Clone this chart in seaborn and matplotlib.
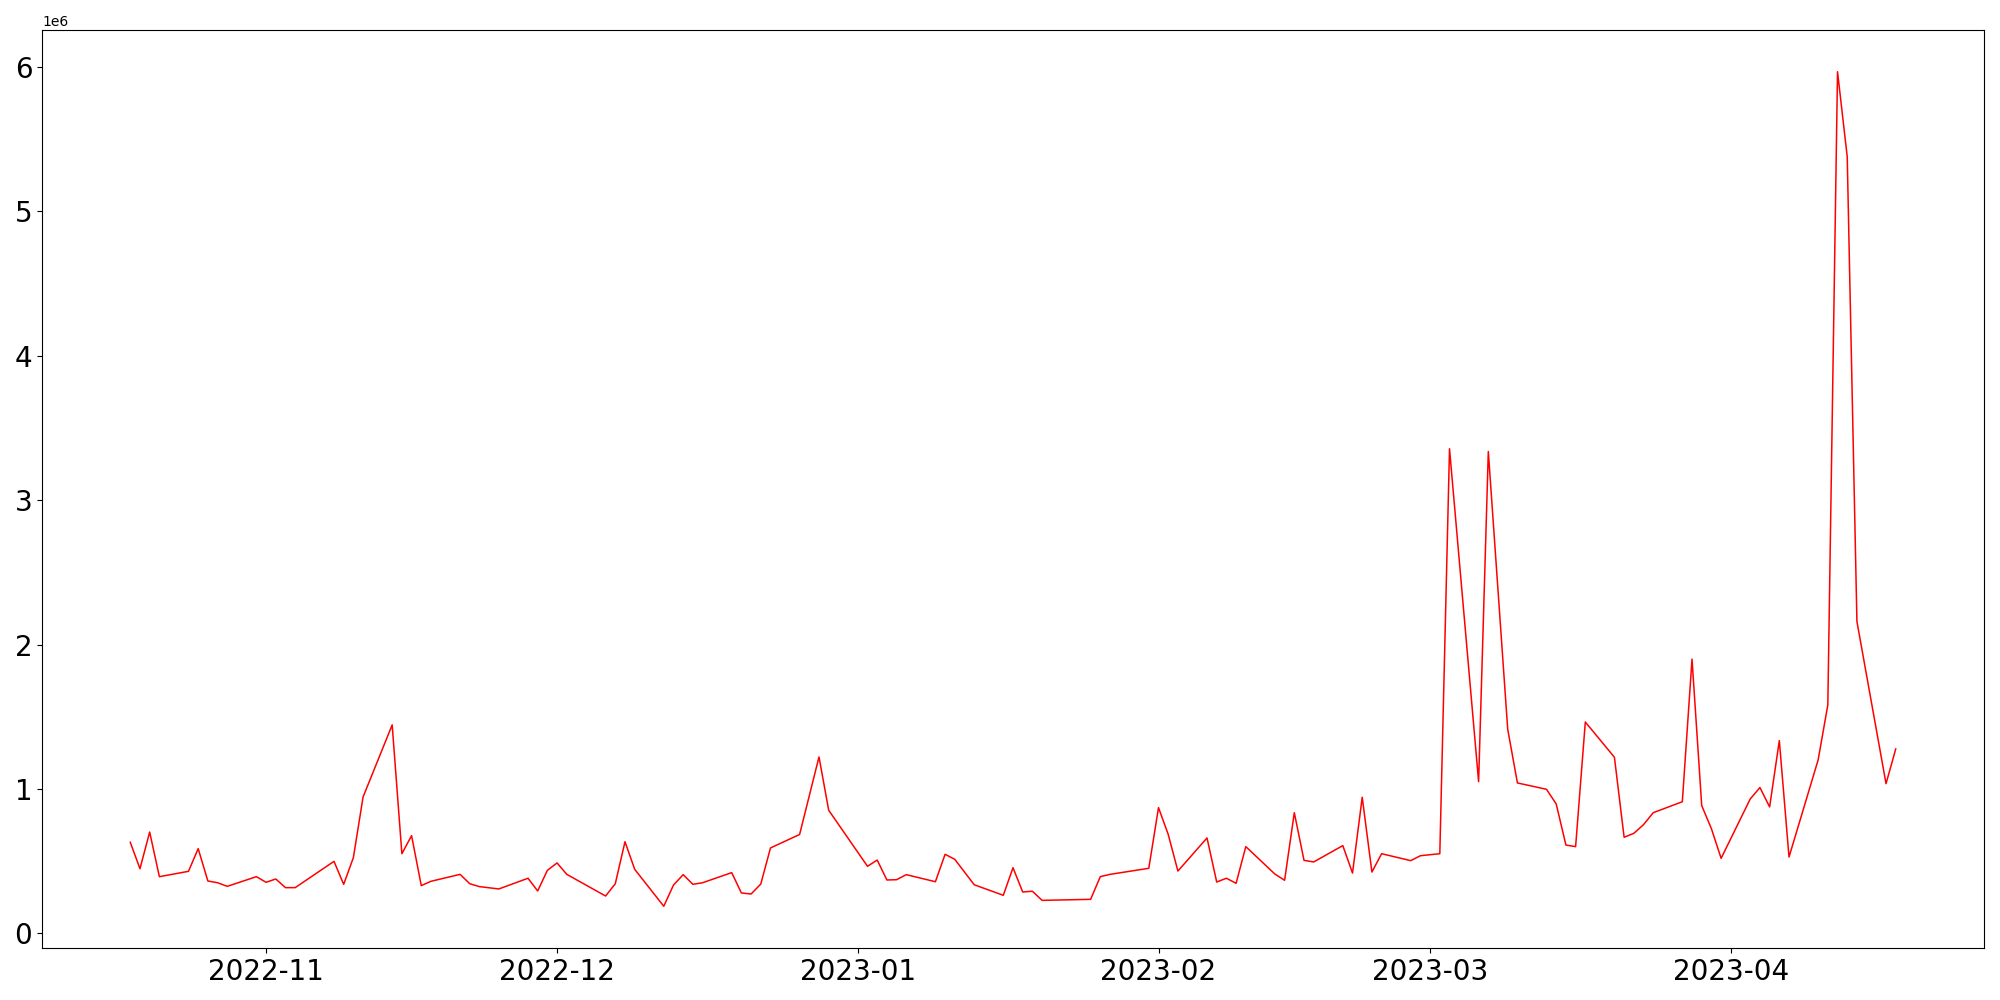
import pandas as pd
import seaborn as sns
import matplotlib.pyplot as plt

# dates of the observations (gaps are days with no data)
dates = [
    "2022-10-18", "2022-10-19", "2022-10-20", "2022-10-21", "2022-10-24",
    "2022-10-25", "2022-10-26", "2022-10-27", "2022-10-28", "2022-10-31",
    "2022-11-01", "2022-11-02", "2022-11-03", "2022-11-04", "2022-11-08",
    "2022-11-09", "2022-11-10", "2022-11-11", "2022-11-14", "2022-11-15",
    "2022-11-16", "2022-11-17", "2022-11-18", "2022-11-21", "2022-11-22",
    "2022-11-23", "2022-11-25", "2022-11-28", "2022-11-29", "2022-11-30",
    "2022-12-01", "2022-12-02", "2022-12-06", "2022-12-07", "2022-12-08",
    "2022-12-09", "2022-12-12", "2022-12-13", "2022-12-14", "2022-12-15",
    "2022-12-16", "2022-12-19", "2022-12-20", "2022-12-21", "2022-12-22",
    "2022-12-23", "2022-12-26", "2022-12-28", "2022-12-29", "2023-01-02",
    "2023-01-03", "2023-01-04", "2023-01-05", "2023-01-06", "2023-01-09",
    "2023-01-10", "2023-01-11", "2023-01-13", "2023-01-16", "2023-01-17",
    "2023-01-18", "2023-01-19", "2023-01-20", "2023-01-25", "2023-01-26",
    "2023-01-27", "2023-01-31", "2023-02-01", "2023-02-02", "2023-02-03",
    "2023-02-06", "2023-02-07", "2023-02-08", "2023-02-09", "2023-02-10",
    "2023-02-13", "2023-02-14", "2023-02-15", "2023-02-16", "2023-02-17",
    "2023-02-20", "2023-02-21", "2023-02-22", "2023-02-23", "2023-02-24",
    "2023-02-27", "2023-02-28", "2023-03-01", "2023-03-02", "2023-03-03",
    "2023-03-06", "2023-03-07", "2023-03-09", "2023-03-10", "2023-03-13",
    "2023-03-14", "2023-03-15", "2023-03-16", "2023-03-17", "2023-03-20",
    "2023-03-21", "2023-03-22", "2023-03-23", "2023-03-24", "2023-03-27",
    "2023-03-28", "2023-03-29", "2023-03-30", "2023-03-31", "2023-04-03",
    "2023-04-04", "2023-04-05", "2023-04-06", "2023-04-07", "2023-04-10",
    "2023-04-11", "2023-04-12", "2023-04-13", "2023-04-14", "2023-04-17",
    "2023-04-18",
]

# values in millions
values_m = [
    0.631, 0.448, 0.702, 0.393, 0.430,
    0.587, 0.363, 0.351, 0.326, 0.393,
    0.354, 0.377, 0.317, 0.317, 0.499,
    0.340, 0.525, 0.945, 1.444, 0.552,
    0.677, 0.331, 0.361, 0.409, 0.344,
    0.324, 0.308, 0.382, 0.294, 0.437,
    0.488, 0.409, 0.259, 0.344, 0.635,
    0.444, 0.188, 0.335, 0.407, 0.340,
    0.351, 0.421, 0.280, 0.273, 0.342,
    0.592, 0.685, 1.222, 0.853, 0.465,
    0.508, 0.370, 0.372, 0.407, 0.358,
    0.548, 0.513, 0.337, 0.264, 0.455,
    0.287, 0.292, 0.229, 0.236, 0.393,
    0.409, 0.451, 0.871, 0.686, 0.432,
    0.661, 0.356, 0.382, 0.347, 0.601,
    0.411, 0.368, 0.836, 0.506, 0.495,
    0.608, 0.418, 0.943, 0.425, 0.552,
    0.504, 0.538, 0.545, 0.552, 3.356,
    1.051, 3.337, 1.414, 1.042, 0.998,
    0.896, 0.612, 0.601, 1.464, 1.220,
    0.666, 0.693, 0.753, 0.836, 0.912,
    1.899, 0.885, 0.725, 0.520, 0.931,
    1.010, 0.876, 1.335, 0.529, 1.201,
    1.582, 5.967, 5.378, 2.160, 1.037,
    1.277,
]

df = pd.DataFrame({
    "date": pd.to_datetime(dates),
    "value": [v * 1e6 for v in values_m],
})

fig, ax = plt.subplots(figsize=(20, 10), dpi=100)
sns.lineplot(data=df, x="date", y="value", color="red", linewidth=1.1, ax=ax)

ax.set_xlabel("")
ax.set_ylabel("")
ax.tick_params(axis="both", labelsize=20)

plt.subplots_adjust(left=0.021, right=0.992, top=0.97, bottom=0.052)
plt.savefig("out.png")
